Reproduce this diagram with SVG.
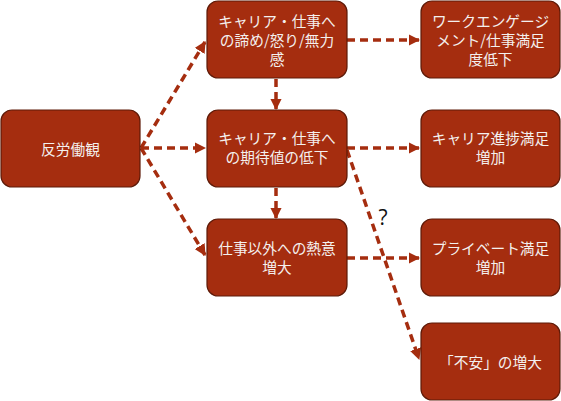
<svg xmlns="http://www.w3.org/2000/svg" width="561" height="401" viewBox="0 0 561 401">
<style>
.box{fill:#A52D0F;stroke:#5E1A08;stroke-width:1.2}
.t{font-family:"Noto Sans CJK JP","Liberation Sans",sans-serif;font-size:14.7px;fill:#F4F0EE;text-anchor:middle;dominant-baseline:central}
.c{fill:none;stroke:#A52D0F;stroke-width:3.5;stroke-dasharray:8,5}
.q{font-family:"Open Sans","Liberation Sans",sans-serif;font-size:21px;fill:#111;text-anchor:middle;dominant-baseline:central}
</style>
<defs>
<marker id="ah" viewBox="0 0 10 10" refX="9" refY="5" markerWidth="3.3" markerHeight="3.3" orient="auto" markerUnits="strokeWidth">
<path d="M0,0 L10,5 L0,10 z" fill="#A52D0F"/>
</marker>
</defs>
<g id="connectors">
<line class="c" x1="141" y1="148" x2="205" y2="42" marker-end="url(#ah)"/>
<line class="c" x1="141" y1="148" x2="205" y2="148" marker-end="url(#ah)"/>
<line class="c" x1="141" y1="148" x2="205" y2="255" marker-end="url(#ah)"/>
<line class="c" x1="347" y1="40" x2="419" y2="40" marker-end="url(#ah)"/>
<line class="c" x1="276" y1="79" x2="276" y2="109" marker-end="url(#ah)"/>
<line class="c" x1="347" y1="148" x2="419" y2="148" marker-end="url(#ah)"/>
<line class="c" x1="276" y1="188" x2="276" y2="218" marker-end="url(#ah)"/>
<line class="c" x1="347" y1="258" x2="419" y2="258" marker-end="url(#ah)"/>
<line class="c" x1="347" y1="150" x2="419" y2="359" marker-end="url(#ah)"/>
<text class="q" x="383" y="217">?</text>
</g>
<g id="n1"><rect class="box" x="1" y="110" width="139" height="77" rx="11"/><text class="t" x="70.5" y="148">反労働観</text></g>
<g id="n2"><rect class="box" x="207" y="1" width="140" height="77" rx="11"/><text class="t" x="277" y="20">キャリア・仕事へ</text><text class="t" x="277" y="39">の諦め/怒り/無力</text><text class="t" x="277" y="58">感</text></g>
<g id="n3"><rect class="box" x="207" y="110" width="140" height="77" rx="11"/><text class="t" x="277" y="137">キャリア・仕事へ</text><text class="t" x="277" y="156">の期待値の低下</text></g>
<g id="n4"><rect class="box" x="207" y="219" width="140" height="77" rx="11"/><text class="t" x="277" y="247">仕事以外への熱意</text><text class="t" x="277" y="266">増大</text></g>
<g id="n5"><rect class="box" x="421" y="1" width="139" height="77" rx="11"/><text class="t" x="490.5" y="20">ワークエンゲージ</text><text class="t" x="490.5" y="39">メント/仕事満足</text><text class="t" x="490.5" y="58">度低下</text></g>
<g id="n6"><rect class="box" x="421" y="110" width="139" height="77" rx="11"/><text class="t" x="490.5" y="137">キャリア進捗満足</text><text class="t" x="490.5" y="156">増加</text></g>
<g id="n7"><rect class="box" x="421" y="219" width="139" height="77" rx="11"/><text class="t" x="490.5" y="247">プライベート満足</text><text class="t" x="490.5" y="266">増加</text></g>
<g id="n8"><rect class="box" x="421" y="323" width="139" height="77" rx="11"/><text class="t" x="490.5" y="361">「不安」の増大</text></g>
</svg>
